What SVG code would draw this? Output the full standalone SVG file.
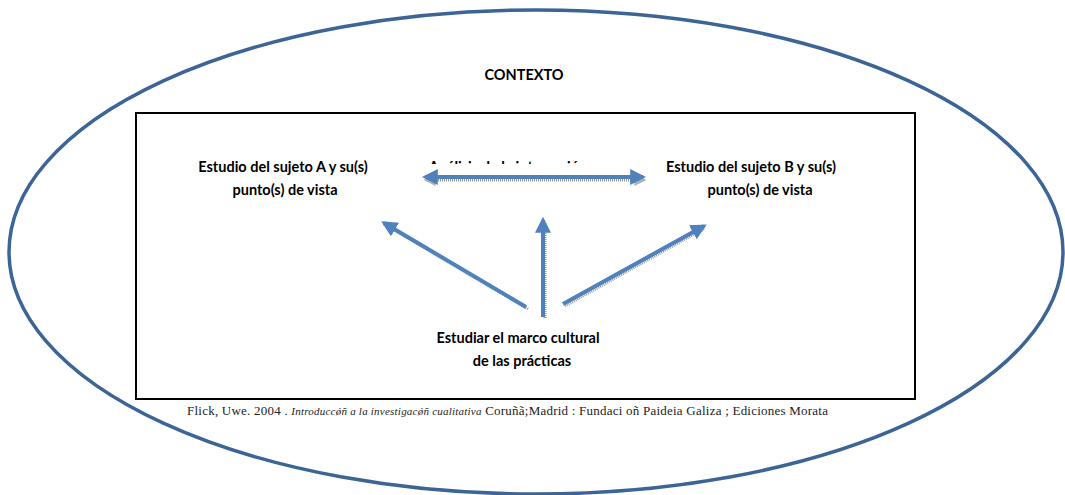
<svg xmlns="http://www.w3.org/2000/svg" width="1065" height="495" viewBox="0 0 1065 495">
<style>
.lbl{font-family:Lato,"Liberation Sans",sans-serif;font-weight:bold;font-size:14.5px;fill:#000;text-anchor:middle}
.arr{stroke:#4F81BD;stroke-width:4;fill:none}
.sh{stroke:#9a9a9a;stroke-width:3;fill:none;stroke-dasharray:1 1}
.cite{font-family:"Liberation Serif",serif;font-size:13px;fill:#222}
</style>
<defs>
<marker id="ah" viewBox="0 0 10 10" refX="8" refY="5" markerWidth="4" markerHeight="4" orient="auto-start-reverse" markerUnits="strokeWidth">
<path d="M0,0 L10,5 L0,10 z" fill="#4F81BD"/>
</marker>
<marker id="ahs" viewBox="0 0 10 10" refX="8" refY="5" markerWidth="4" markerHeight="4" orient="auto-start-reverse" markerUnits="strokeWidth">
<path d="M0,0 L10,5 L0,10 z" fill="#b0b0b0"/>
</marker>
<clipPath id="clipTop"><rect x="400" y="150" width="220" height="14"/></clipPath>
</defs>
<rect width="1065" height="495" fill="#fff"/>
<g id="contexto">
<ellipse cx="536" cy="252" rx="527" ry="242" fill="none" stroke="#3C6595" stroke-width="3.5"/>
<text class="lbl" x="524" y="80">CONTEXTO</text>
</g>
<g id="marco">
<rect x="136" y="113" width="779" height="286" fill="none" stroke="#000" stroke-width="2"/>
</g>
<g id="sujetoA">
<text class="lbl" x="283" y="172">Estudio del sujeto A y su(s)</text>
<text class="lbl" x="285" y="195">punto(s) de vista</text>
</g>
<g id="sujetoB">
<text class="lbl" x="751" y="172">Estudio del sujeto B y su(s)</text>
<text class="lbl" x="760" y="195">punto(s) de vista</text>
</g>
<g id="cultural">
<text class="lbl" x="518" y="343">Estudiar el marco cultural</text>
<text class="lbl" x="522" y="366">de las prácticas</text>
</g>
<g id="interaccion">
<text class="lbl" x="508" y="172" clip-path="url(#clipTop)">Análisis de la interacción</text>
</g>
<g id="connectors">
<line class="sh" x1="426" y1="180" x2="644" y2="180" marker-start="url(#ahs)" marker-end="url(#ahs)"/>
<line class="sh" x1="528" y1="309" x2="384" y2="224"/>
<line class="sh" x1="545" y1="318" x2="545" y2="222"/>
<line class="sh" x1="565" y1="306" x2="705" y2="228"/>
<line class="arr" x1="425" y1="177" x2="643" y2="177" marker-start="url(#ah)" marker-end="url(#ah)"/>
<line class="arr" x1="526" y1="307" x2="384" y2="223" marker-end="url(#ah)"/>
<line class="arr" x1="543" y1="317" x2="543" y2="220" marker-end="url(#ah)"/>
<line class="arr" x1="563" y1="304" x2="704" y2="226" marker-end="url(#ah)"/>
</g>
<g id="cita">
<text class="cite" x="187" y="415" textLength="641" lengthAdjust="spacing">Flick, Uwe. 2004 . <tspan font-style="italic" font-size="11">Introduccǿñ a la investigacǿñ cualitativa</tspan> Coruñã;Madrid : Fundaci oñ Paideia Galiza ; Ediciones Morata</text>
</g>
</svg>
